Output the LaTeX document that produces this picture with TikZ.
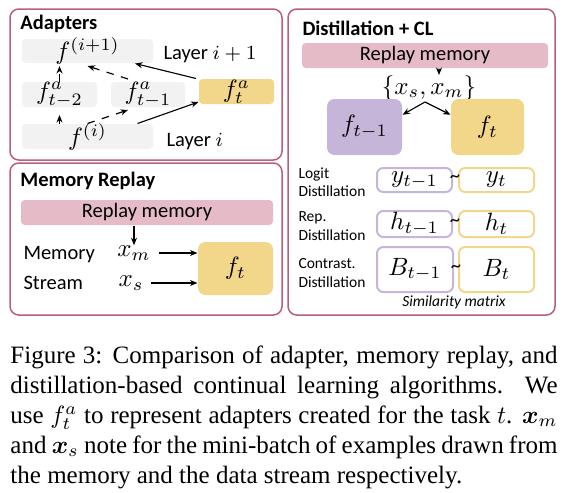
\documentclass[tikz,border=0pt]{standalone}
\usepackage{amsmath}
\usepackage{fontspec}
\setmainfont{Liberation Serif}
\newfontfamily\diagfont{Carlito}
\usetikzlibrary{positioning,fit,arrows.meta}

\definecolor{framepink}{HTML}{B85C80}
\definecolor{memfill}{HTML}{E5BBC8}
\definecolor{curfill}{HTML}{F2D68A}
\definecolor{prevfill}{HTML}{C5B5D9}
\definecolor{layerfill}{HTML}{F2F2F2}

\begin{document}
\begin{tikzpicture}[x=0.4pt, y=-0.4pt
        , every node/.style={ font=\diagfont\fontsize{8.2}{9.8}\selectfont }
        , every label/.style={ inner sep=0pt, font=\fontsize{10}{12}\selectfont }
        , panel/.style={ draw=framepink, line width=0.6pt, rounded corners=3.5pt }
        , title/.style={ anchor=west, inner sep=0pt, font=\diagfont\bfseries\fontsize{8.2}{9.8}\selectfont }
        , mbox/.style={ inner sep=0pt, font=\fontsize{10}{12}\selectfont }
        , layerbox/.style={ inner sep=0pt, fill=layerfill, rounded corners=1.5pt }
        , adabox/.style={ inner sep=0pt, fill=curfill, rounded corners=1.5pt }
        , membox/.style={ inner sep=0pt, fill=memfill, rounded corners=1.5pt }
        , modelbox/.style={ inner sep=0pt, rounded corners=3pt }
        , simbox/.style={ inner sep=0pt, fill=white, line width=0.8pt, rounded corners=2.5pt }
        , small/.style={ anchor=west, inner sep=0pt, align=left,
              font=\diagfont\fontsize{6.2}{7.4}\selectfont }
        , arr/.style={ -{Stealth[length=3pt,width=2.4pt]}, line width=0.45pt }
        ]

    \useasboundingbox (0,0) rectangle (567,493);

    % three panels
    \draw[panel] (10,9) rectangle (282,160);
    \draw[panel] (10,163) rectangle (282,315);
    \draw[panel] (288,9) rectangle (555,315);

    % Adapters
    \node[title] (adtitle) at (20,24) {Adapters};
    \node[layerbox, fit={(22,39) (153,63)}, label=center:{$f^{(i+1)}$}] (fi1) {};
    \node[layerbox, fit={(22,82) (97,107)}, label=center:{$f^{a}_{t-2}$}] (ft2) {};
    \node[layerbox, fit={(111,82) (185,107)}, label=center:{$f^{a}_{t-1}$}] (ft1) {};
    \node[adabox, fit={(199,79) (274,104)}, label=center:{$f^{a}_{t}$}] (fta) {};
    \node[layerbox, fit={(22,124) (153,149)}, label=center:{$f^{(i)}$}] (fi) {};
    \node[anchor=west, inner sep=0pt] (lay1) at (163,55) {Layer $i+1$};
    \node[anchor=west, inner sep=0pt] (lay0) at (166,142) {Layer $i$};

    \draw[arr, dashed, shorten >=3pt] (fi.north -| ft2) -- (ft2.south);
    \draw[arr, dashed, shorten >=1pt] (ft2.north) -- (fi1.south -| ft2);
    \draw[arr, dashed] (fi.north) -- ([xshift=-8pt,yshift=-1pt]ft1.south);
    \draw[arr, dashed] ([xshift=-8pt,yshift=1pt]ft1.north) -- ([yshift=-1pt]fi1.south);
    \draw[arr] ([xshift=20pt]fi.north) -- ([yshift=1pt]fta.south west);
    \draw[arr] ([xshift=-1pt]fta.north west) -- ([xshift=19pt]fi1.south);

    % Memory Replay
    \node[title] (mrtitle) at (20,181) {Memory Replay};
    \node[membox, fit={(21,200) (273,225)}, label={[font=\diagfont\fontsize{8.2}{9.8}\selectfont]center:Replay memory}] (rm1) {};
    \node[anchor=west, inner sep=0pt] (memlab) at (23,255) {Memory};
    \node[anchor=west, inner sep=0pt] (strlab) at (23,283) {Stream};
    \node[mbox] (xm) at (134,253) {$x_m$};
    \node[mbox] (xs) at (131,283) {$x_s$};
    \node[modelbox, fill=curfill, fit={(198,242) (273,295)}, label=center:{$f_t$}] (ftm) {};

    \draw[arr] (rm1.south -| xm) -- (xm.north);
    \draw[arr] ([xshift=3pt]xm.east) -- (ftm.west |- xm.east);
    \draw[arr] ([xshift=3pt]xs.east) -- (ftm.west |- xs.east);

    % Distillation + CL
    \node[title] (dctitle) at (302,28) {Distillation + CL};
    \node[membox, fit={(302,43) (548,68)}, label={[font=\diagfont\fontsize{8.2}{9.8}\selectfont]center:Replay memory}] (rm2) {};
    \node[mbox] (batch) at (429,88) {$\{x_s, x_m\}$};
    \node[modelbox, fill=prevfill, fit={(327,99) (402,155)}, label=center:{$f_{t-1}$}] (fprev) {};
    \node[modelbox, fill=curfill, fit={(451,99) (524,155)}, label=center:{$f_t$}] (fcur) {};
    \coordinate (split) at (425,102);

    \draw[arr] (rm2.south -| 439,0) -- ([xshift=4pt]batch.north);
    \draw[arr] (split) -- ([yshift=-6.5pt]fprev.north east);
    \draw[arr] (split) -- ([yshift=-6.5pt]fcur.north west);

    \node[small] (logit) at (298,182) {Logit\\Distillation};
    \node[simbox, draw=prevfill, fit={(377,168) (452,192)}, label=center:{$y_{t-1}$}] (yprev) {};
    \node[simbox, draw=curfill, fit={(459,168) (534,192)}, label=center:{$y_t$}] (ycur) {};
    \node[inner sep=0pt] (ysim) at (455,179) {\textasciitilde};

    \node[small] (rep) at (298,226) {Rep.\\Distillation};
    \node[simbox, draw=prevfill, fit={(377,211) (452,237)}, label=center:{$h_{t-1}$}] (hprev) {};
    \node[simbox, draw=curfill, fit={(459,211) (534,237)}, label=center:{$h_t$}] (hcur) {};
    \node[inner sep=0pt] (hsim) at (455,223) {\textasciitilde};

    \node[small] (con) at (298,273) {Contrast.\\Distillation};
    \node[simbox, draw=prevfill, fit={(377,247) (453,292)}, label=center:{$B_{t-1}$}] (bprev) {};
    \node[simbox, draw=curfill, fit={(459,247) (534,292)}, label=center:{$B_t$}] (bcur) {};
    \node[inner sep=0pt] (bsim) at (456,269) {\textasciitilde};
    \node[inner sep=0pt, font=\diagfont\itshape\fontsize{6.2}{7.4}\selectfont] (simlab) at (454,302) {Similarity matrix};

    % caption
    \node[anchor=north west, inner sep=0pt, text width=218.8pt, align=justify,
          font=\rmfamily\fontsize{10}{12}\selectfont] (caption) at (10,345)
        {Figure 3: Comparison of adapter, memory replay, and distillation-based
         continual learning algorithms. We use $f_t^a$ to represent adapters
         created for the task $t$. $\boldsymbol{x}_m$ and $\boldsymbol{x}_s$ note
         for the mini-batch of examples drawn from the memory and the data stream
         respectively.};

\end{tikzpicture}
\end{document}
